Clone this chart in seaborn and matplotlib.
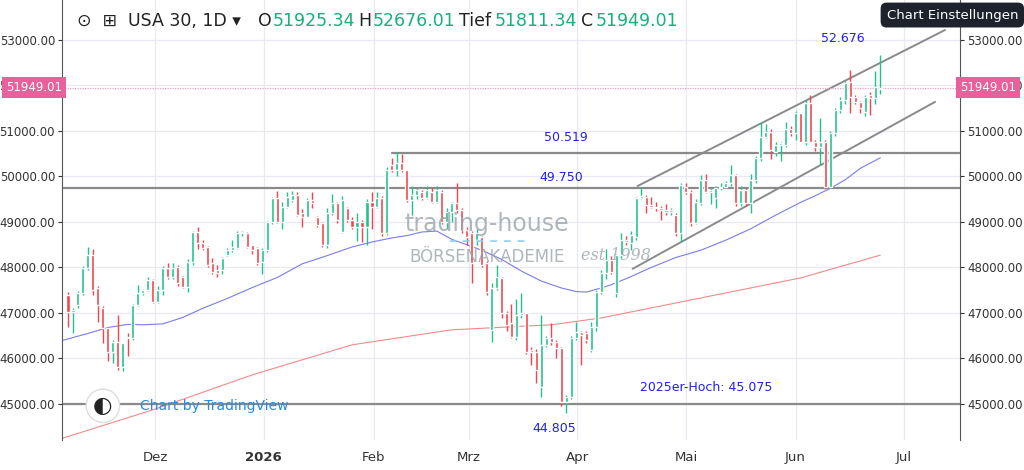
import numpy as np
import pandas as pd
import matplotlib
matplotlib.use("Agg")
import matplotlib.pyplot as plt
import seaborn as sns

# daily OHLC (USA 30, Nov 2025 - Jun 2026)
opens = [47393, 47027, 47173, 47430, 47980, 48273, 47540, 47100, 46660, 46147, 46367, 45817, 46477, 46440,
         47173, 47430, 47503, 47723, 47247, 47503, 47980, 47797, 48017, 47797, 47577, 48126, 48786, 48530,
         48456, 48090, 47943, 47943, 48273, 48383, 48420, 48750, 48750, 48493, 48420, 48126, 48383, 49006,
         49519, 49006, 49336, 49483, 49592, 49189, 49116, 49483, 49116, 48969, 48493, 49189, 49409, 48786,
         49299, 49043, 48896, 49006, 48896, 49446, 49336, 49519, 48750,
         50252, 50142, 50289, 50142, 49483, 49593, 49666, 49520, 49666, 49446, 49666, 49006, 49226, 49409,
         49263, 48823, 48750, 48603, 48676, 48090, 46624, 47540, 47760, 46990, 46770, 46478, 46954, 46990,
         46184, 46148, 45378, 46294, 46441, 46368, 46221, 45048, 45158, 46441, 46587, 46550, 46184, 46697,
         47467, 47870, 48163, 47430, 48273, 48603, 48530, 48676, 49520, 49556, 49373, 49336, 49300, 49263,
         49226, 49150,
         48749, 49775, 49665, 48970, 49408, 49921, 49665, 49518, 49738, 49775, 49848, 50031, 49408, 49701,
         49408, 49921, 50398, 50874, 50984, 50544, 50691, 50691, 51036, 50948, 51387, 50764, 51607, 50764,
         50654, 50764, 49775, 50948, 51461, 51681, 52084, 51754, 51644, 51424, 51791, 51717, 51925]
closes = [47027, 47063, 47430, 47980, 48273, 47503, 47173, 46660, 46147, 46367, 45817, 46330, 46440, 47173,
          47430, 47503, 47723, 47247, 47503, 47980, 47797, 47980, 47650, 47577, 48126, 48786, 48530, 48420,
          48053, 47907, 47870, 48200, 48383, 48456, 48750, 48786, 48456, 48383, 48090, 48383, 49006, 49519,
          49006, 49336, 49556, 49592, 49153, 49116, 49483, 49409, 48933, 48493, 49189, 49409, 49043, 49483,
          49043, 48896, 49006, 48896, 49446, 49336, 49519, 48750, 50142,
          50142, 50289, 50142, 49483, 49593, 49703, 49520, 49703, 49446, 49703, 49006, 49226, 49409, 49263,
          48823, 48676, 48090, 48750, 48053, 47467, 47540, 47797, 46990, 46734, 46478, 46954, 46990, 46148,
          46148, 45745, 46294, 46441, 46368, 46221, 45048, 45158, 46441, 46587, 46514, 46404, 46697, 47467,
          47870, 48163, 47907, 48273, 48603, 48566, 48713, 49520, 49571, 49373, 49336, 49300, 49263, 49226,
          49263, 48750,
          49812, 49665, 48970, 49445, 49921, 49665, 49701, 49738, 49775, 49848, 50031, 49408, 49701, 49408,
          49921, 50398, 50874, 50984, 50581, 50691, 50728, 51036, 50948, 51387, 50764, 51607, 50764, 50654,
          50764, 49775, 50948, 51461, 51681, 52047, 51754, 51644, 51497, 51754, 51717, 51974, 51949]
highs = [47450, 47100, 47480, 48030, 48450, 48400, 47600, 47150, 46700, 46400, 46950, 46350, 46550, 47200,
         47620, 47520, 47780, 47750, 47600, 48030, 48100, 48100, 48050, 47820, 48180, 48800, 48900, 48600,
         48470, 48200, 48050, 48230, 48420, 48600, 48800, 48800, 48770, 48500, 48450, 48420, 49030, 49550,
         49680, 49450, 49650, 49680, 49650, 49280, 49520, 49650, 49130, 49000, 49300, 49620, 49450, 49580,
         49320, 49100, 49200, 49050, 49500, 49650, 49650, 49580, 50200,
         50400, 50545, 50500, 50150, 49780, 49750, 49700, 49780, 49750, 49800, 49700, 49300, 49450, 49860,
         49300, 48900, 48800, 48850, 48700, 48150, 47650, 48050, 47800, 47050, 47200, 47300, 47430, 47000,
         46250, 46200, 46950, 46500, 46770, 46400, 46250, 45200, 46500, 46800, 46600, 46600, 46800, 47500,
         47950, 48400, 48250, 48300, 48750, 48700, 48800, 49550, 49770, 49600, 49550, 49450, 49350, 49400,
         49300, 49200,
         49850, 49850, 49700, 49500, 50030, 50050, 49750, 49800, 49850, 49900, 50250, 50050, 49800, 49750,
         50050, 50450, 51200, 51150, 51050, 50750, 50750, 51200, 51100, 51430, 51400, 51680, 51800, 50800,
         51280, 50800, 51000, 51500, 51750, 52100, 52350, 51800, 51650, 51800, 51850, 52310, 52676]
lows = [46700, 46550, 47100, 47400, 47950, 47400, 46800, 46350, 45950, 45900, 45750, 45720, 46050, 46400,
        47150, 47400, 47480, 47220, 47220, 47400, 47750, 47750, 47600, 47550, 47450, 48050, 48400, 48380,
        48000, 47850, 47800, 47850, 48250, 48350, 48400, 48700, 48430, 48300, 48050, 47850, 48350, 48950,
        48980, 48840, 49300, 49450, 49130, 48880, 49100, 49300, 48880, 48450, 48420, 49150, 48980, 48750,
        49000, 48850, 48580, 48550, 48500, 48850, 49300, 48700, 48720,
        50100, 50000, 50100, 49450, 49150, 49500, 49480, 49500, 49420, 49420, 48950, 48850, 49000, 49200,
        48750, 48500, 47650, 48500, 48000, 47400, 46370, 47500, 46900, 46600, 46450, 46400, 46900, 46100,
        45850, 45450, 45150, 46250, 46300, 46000, 44950, 44805, 45100, 46400, 45850, 46350, 46150, 46600,
        47420, 47750, 47850, 47350, 48200, 48500, 48380, 48600, 49500, 49200, 49300, 49250, 49050, 49150,
        49150, 48700,
        48550, 49620, 48920, 48950, 49380, 49630, 49400, 49300, 49700, 49750, 49800, 49350, 49350, 49350,
        49200, 49850, 50350, 50850, 50380, 50450, 50350, 50650, 50900, 50800, 50750, 50700, 50750, 50550,
        50250, 49720, 49750, 50900, 51400, 51600, 51400, 51600, 51400, 51330, 51350, 51600, 51811]

# moving averages, sampled at bar numbers
ma_bars = [-1, 4, 8, 12, 15, 19, 23, 27, 32, 37, 42, 47, 52, 57, 61, 65, 68, 71, 74, 77, 80, 83, 87, 91, 95,
           99, 102, 104, 107, 109, 113, 117, 122, 127, 132, 137, 142, 147, 150, 153, 156, 159, 163]
ma50 = [46400, 46550, 46680, 46750, 46740, 46760, 46900, 47100, 47320, 47560, 47780, 48080, 48260, 48450,
        48560, 48650, 48700, 48780, 48800, 48620, 48500, 48380, 48180, 47920, 47700, 47550, 47470, 47460,
        47550, 47620, 47800, 48000, 48220, 48380, 48600, 48850, 49150, 49430, 49580, 49740, 49930, 50180, 50410]
ma200_bars = [-1, 17, 37, 57, 77, 97, 107, 127, 147, 163]
ma200 = [44250, 44870, 45640, 46300, 46630, 46740, 46890, 47330, 47770, 48270]

month_pos = [17.5, 39.3, 61.4, 80.5, 102.2, 124.1, 146.0, 167.7]
month_labels = ["Dez", "2026", "Feb", "Mrz", "Apr", "Mai", "Jun", "Jul"]

levels = [50519, 49750, 45000]
level_start = [65, -2, -2]
chan_bars = [114.3, 176]
chan_upper = [49790, 53220]
chan_lower_bars = [113.3, 174]
chan_lower = [47970, 51640]
last_price = 51949.01

df = pd.DataFrame({"open": opens, "high": highs, "low": lows, "close": closes})
df["x"] = np.arange(len(df))

sns.set_style("white")
plt.rcParams["font.family"] = ["DejaVu Sans"]
green, red = "#22c28e", "#f2444c"

fig = plt.figure(figsize=(10.24, 4.7), dpi=100)
ax = fig.add_axes([62 / 1024, 30 / 470, 898 / 1024, 440 / 470])

ax.set_xticks(month_pos)
ax.set_xticklabels(month_labels, fontsize=9.5, color="#333")
for t in ax.get_xticklabels():
    if t.get_text() == "2026":
        t.set_fontweight("bold")
ax.set_yticks(np.arange(45000, 53001, 1000))
ax.grid(True, color="#e9e9f5", lw=0.9)
ax.set_xlim(-1.2, 179)
ax.set_ylim(44208, 53879)
ax.tick_params(axis="y", labelleft=True, labelright=True, left=True, right=True, labelsize=8.5,
               colors="#333", length=3, pad=2)
ax.tick_params(axis="x", length=0, pad=8)
ax.yaxis.set_major_formatter(matplotlib.ticker.FuncFormatter(lambda v, p: f"{v:.2f}"))
for s in ["top", "bottom"]:
    ax.spines[s].set_visible(False)
ax.spines["left"].set_color("#555")
ax.spines["right"].set_color("#555")

ax.plot(ma_bars, ma50, color="#7b7bf0", lw=0.8)
ax.plot(ma200_bars, ma200, color="#f28a8a", lw=0.8)

for lv, st in zip(levels, level_start):
    ax.plot([st, 179], [lv, lv], color="#8a8a8a", lw=1.6)
ax.plot(chan_bars, chan_upper, color="#8a8a8a", lw=1.4)
ax.plot(chan_lower_bars, chan_lower, color="#8a8a8a", lw=1.4)
ax.axhline(last_price, color="#f0a0c8", lw=0.9, ls=(0, (1, 1)))

col = np.where(df["close"] >= df["open"], green, red)
ax.vlines(df["x"], df["low"], df["high"], colors=col, lw=1)
ax.bar(df["x"], (df["close"] - df["open"]).abs().clip(lower=25), bottom=df[["open", "close"]].min(axis=1),
       width=0.62, color=col, zorder=3)

# watermark
wm = "#9aa5ad"
ax.text(84, 48800, "trading-house", fontsize=17, color=wm, alpha=0.8, ha="center")
ax.text(84, 48560, "━  ━  ━  ━  ━  ━", fontsize=8, color="#8fd0f0", alpha=0.9, ha="center", va="center")
ax.text(84, 48130, "BÖRSENAKADEMIE", fontsize=12, color=wm, alpha=0.8, ha="center")
ax.text(103, 48170, "est 1998", fontsize=11.5, color=wm, alpha=0.8, ha="left", style="italic",
        family=["DejaVu Serif"])

blue = "#2222dd"
ax.text(155.5, 52950, "52.676", color=blue, fontsize=9, ha="center")
ax.text(100, 50790, "50.519", color=blue, fontsize=9, ha="center")
ax.text(99, 49900, "49.750", color=blue, fontsize=9, ha="center")
ax.text(128, 45280, "2025er-Hoch: 45.075", color=blue, fontsize=9, ha="center")
ax.text(97.5, 44390, "44.805", color=blue, fontsize=9, ha="center")

# TradingView badge
ax.text(7, 44960, "◐", fontsize=16, color="#222", ha="center", va="center",
        bbox=dict(boxstyle="circle,pad=0.3", fc="white", ec="#ddd"))
ax.text(14.5, 44960, "Chart by TradingView", fontsize=10, color="#2a8ae0", va="center")

# price labels on both axes
for xf, ha in [(0.0, "right"), (1.0, "left")]:
    ax.text(xf, last_price, f"{last_price:.2f}", transform=ax.get_yaxis_transform(), ha=ha, va="center",
            fontsize=8.5, color="white", bbox=dict(boxstyle="square,pad=0.35", fc="#e8609c", ec="none"),
            zorder=5, clip_on=False)

# header
fig.text(0.075, 0.955, "⊙  ⊞  USA 30, 1D ▾", fontsize=12.5, color="#222", va="center")
parts = [("O", 0.252), ("51925.34", 0.266), ("H", 0.35), ("52676.01", 0.364), ("Tief", 0.448),
         ("51811.34", 0.483), ("C", 0.567), ("51949.01", 0.582)]
for i, (txt, xp) in enumerate(parts):
    fig.text(xp, 0.955, txt, fontsize=12.5, va="center", color="#222" if i % 2 == 0 else "#19b07a")
fig.text(0.93, 0.968, "Chart Einstellungen", fontsize=9.5, color="white", ha="center", va="center",
         bbox=dict(boxstyle="round,pad=0.45", fc="#1e222d", ec="none"))

fig.savefig("out.png", dpi=100)
